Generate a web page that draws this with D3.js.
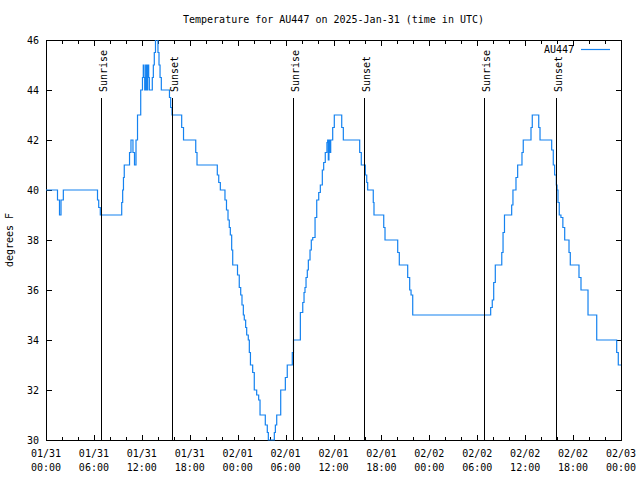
<!DOCTYPE html>
<html><head><meta charset="utf-8">
<script src="https://cdn.jsdelivr.net/npm/d3@7"></script>
<style>
body{margin:0;background:#fff}
text{font-family:"DejaVu Sans Mono","Liberation Mono",monospace;font-size:10px;fill:#000}
</style>
</head><body>
<svg id="c" width="640" height="480"></svg>
<script>
// ---- data (hours since 2025-01-31 00:00 UTC, temperature in deg F) ----
const hours = [0,1.44,1.69,1.88,2.17,6.45,6.60,6.80,9.48,9.60,9.70,9.80,10.46,10.64,10.89,11.08,11.27,11.46,11.86,12.08,12.18,12.27,12.36,12.48,12.61,12.73,12.86,12.94,13.31,13.44,13.56,13.71,14.02,14.15,14.28,14.44,15.46,15.61,15.78,16.99,17.22,18.75,18.91,21.45,21.63,21.83,22.41,22.60,22.79,22.95,23.08,23.25,23.38,23.98,24.20,24.38,24.54,24.71,24.83,25.00,25.13,25.33,25.46,25.60,25.88,26.08,26.38,26.63,26.80,27.46,27.71,27.84,28.59,28.72,28.89,29.39,29.97,30.21,30.84,30.99,31.85,32.15,32.31,32.43,32.56,32.72,32.85,33.06,33.22,33.40,33.69,33.90,34.15,34.35,34.60,34.77,34.97,35.18,35.27,35.35,35.43,35.52,35.65,35.90,36.10,37.03,37.23,39.28,39.48,39.98,40.16,40.28,40.98,41.07,42.29,42.45,44.04,44.24,45.29,45.54,45.71,45.92,55.68,55.88,56.06,56.26,57.07,57.23,57.41,58.31,58.47,58.85,59.06,59.60,59.76,60.73,60.89,61.70,61.86,63.32,63.52,63.69,63.90,63.99,64.11,64.27,64.48,64.72,64.95,65.49,65.65,66.74,66.99,67.87,68.96,71.46,71.66,72];
const tempsF = [40,39.6,39,39.6,40,39.6,39.3,39,39.5,40,40.5,41,41.5,42,41.5,41,42,43,44,44.5,45,44.5,44,45,44,45,44.5,44,44.5,45,45.5,46,45.5,45,44.5,44,43.7,43.3,43,42.5,42,41.5,41,40.6,40.3,40,39.6,39.2,38.8,38.5,38.2,37.6,37,36.6,36.1,35.8,35.4,35,34.8,34.5,34.2,34,33.5,33,32.7,32,31.8,31.6,31,30.6,30.3,30,30.3,30.6,31,32,32.5,33,33.5,34,35.1,35.5,35.9,36.1,36.5,36.8,37.2,37.6,38,38.1,38.9,39.6,39.9,40.2,40.8,41.1,41.5,41.9,42,41.2,42,41.5,42,42.5,43,42.5,42,41.5,41,40.6,40.3,40,39.5,39,38.5,38,37.5,37,36.5,36,35.8,35,35.3,35.6,36.3,37,37.5,38.3,39,39.4,40,40.5,41,41.5,42,42.5,43,42.5,42,41.6,41,40.6,40.2,40,39.5,39,38.9,38.5,38,37.5,37,36.5,36,35,34,33.5,33,33];
const sunrise = ["2025-01-31T06:55Z","2025-02-01T06:58Z","2025-02-02T06:53Z"];
const sunset  = ["2025-01-31T15:49Z","2025-02-01T15:52Z","2025-02-02T15:54Z"];
const yTicks = [30,32,34,36,38,40,42,44,46];
const seriesName = "AU447";
const titleText = "Temperature for AU447 on 2025-Jan-31 (time in UTC)";

const start = new Date("2025-01-31T00:00Z"), end = new Date("2025-02-03T00:00Z");
const data = hours.map((h,i)=>({t:new Date(start.getTime()+h*3600e3), v:tempsF[i]}));

const L=46, R=621, T=40, B=440;
const svg = d3.select("#c");
const x = d3.scaleUtc().domain([start,end]).range([L,R]);
const y = d3.scaleLinear().domain([30,46]).range([B,T]);

// frame
svg.append("rect").attr("x",L+0.5).attr("y",T+0.5).attr("width",R-L).attr("height",B-T)
  .attr("fill","none").attr("stroke","#000").attr("stroke-width",1).attr("shape-rendering","crispEdges");

// x ticks
const major = d3.utcHour.every(6).range(start, d3.utcHour.offset(end,1));
const minor = d3.utcHour.every(2).range(start, d3.utcHour.offset(end,1));
const tg = svg.append("g").attr("stroke","#000").attr("shape-rendering","crispEdges");
minor.forEach(d=>{
  const len = (d.getUTCHours()%6===0)?5:3;
  const px = Math.round(x(d))+0.5;
  tg.append("line").attr("x1",px).attr("x2",px).attr("y1",B).attr("y2",B-len);
  tg.append("line").attr("x1",px).attr("x2",px).attr("y1",T+1).attr("y2",T+1+len);
});
yTicks.forEach(v=>{
  const py = Math.round(y(v))+0.5;
  tg.append("line").attr("x1",L+1).attr("x2",L+1+5).attr("y1",py).attr("y2",py);
  tg.append("line").attr("x1",R).attr("x2",R-5).attr("y1",py).attr("y2",py);
});
// x labels
const fD = d3.utcFormat("%m/%d"), fT = d3.utcFormat("%H:%M");
major.forEach(d=>{
  const t = svg.append("text").attr("text-anchor","middle").attr("x",x(d));
  t.append("tspan").attr("x",x(d)).attr("y",457).text(fD(d));
  t.append("tspan").attr("x",x(d)).attr("y",471).text(fT(d));
});
// y labels
yTicks.forEach(v=>{
  svg.append("text").attr("text-anchor","end").attr("x",39).attr("y",y(v)+3.5).text(v);
});
svg.append("text").attr("text-anchor","middle").attr("transform","translate(13,240) rotate(-90)").text("degrees F");
svg.append("text").attr("text-anchor","middle").attr("x",(L+R)/2).attr("y",23).text(titleText);

// clip
svg.append("clipPath").attr("id","clip").append("rect").attr("x",L).attr("y",T).attr("width",R-L+1).attr("height",B-T+1);

// series
const line = d3.line().x(d=>x(d.t)).y(d=>y(d.v)).curve(d3.curveStepAfter);
svg.append("path").datum(data).attr("d",line).attr("fill","none")
  .attr("stroke","#1482f0").attr("stroke-width",1.2).attr("clip-path","url(#clip)");

// sunrise / sunset
function sunMark(s,label){
  const d = new Date(s);
  const px = Math.round(x(d))+0.5;
  svg.append("line").attr("x1",px).attr("x2",px).attr("y1",B).attr("y2",98)
    .attr("stroke","#000").attr("stroke-width",1).attr("shape-rendering","crispEdges");
  svg.append("text").attr("transform",`translate(${px+5},92) rotate(-90)`).text(label);
}
sunrise.forEach(s=>sunMark(s,"Sunrise"));
sunset.forEach(s=>sunMark(s,"Sunset"));

// legend
svg.append("text").attr("text-anchor","end").attr("x",574).attr("y",53).text(seriesName);
svg.append("line").attr("x1",581).attr("x2",610).attr("y1",49.5).attr("y2",49.5)
  .attr("stroke","#1482f0").attr("stroke-width",1.2);
</script>
</body></html>
